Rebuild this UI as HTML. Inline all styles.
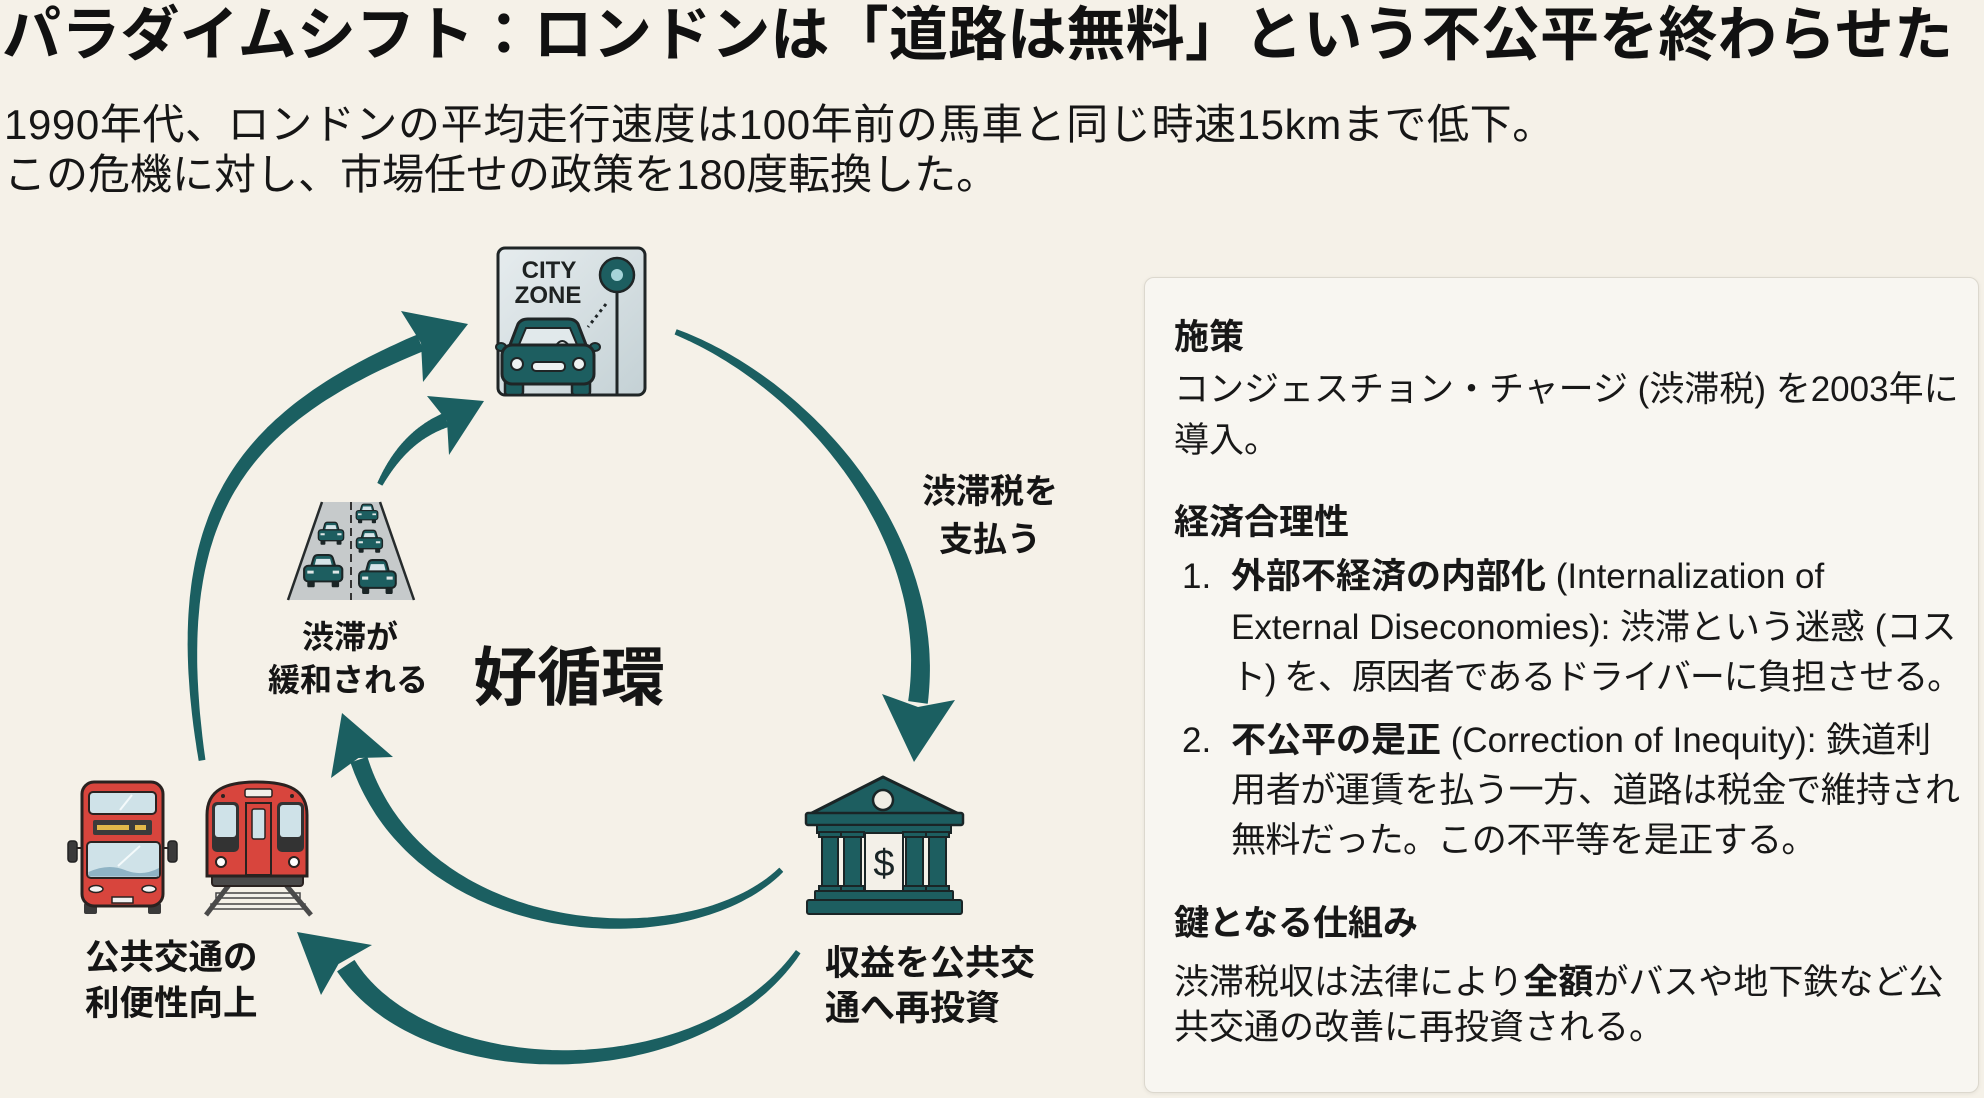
<!DOCTYPE html>
<html lang="ja">
<head>
<meta charset="utf-8">
<style>
  html,body{margin:0;padding:0;}
  body{width:1984px;height:1098px;overflow:hidden;background:#f5f1e8;position:relative;
    font-family:"Liberation Sans","Noto Sans CJK JP",sans-serif;color:#141414;}
  .t{position:absolute;white-space:nowrap;line-height:1;}
  .b{font-weight:700;}
  #title{left:2px;top:6px;font-size:59px;font-weight:700;color:#111;letter-spacing:0.2px;}
  .sub{font-size:42px;left:4px;color:#161616;}
  #panel{position:absolute;left:1144px;top:277px;width:833px;height:814px;background:#f8f6f1;
    border:1.5px solid #dcd8ce;border-radius:10px;box-shadow:0 1px 4px rgba(0,0,0,0.07);}
  .p{font-size:35px;color:#181818;}
  .lab{font-weight:700;color:#151515;}
  svg{position:absolute;left:0;top:0;}
</style>
</head>
<body>

<div class="t" id="title">パラダイムシフト：ロンドンは「道路は無料」という不公平を終わらせた</div>
<div class="t sub" style="top:104px;letter-spacing:0.6px;">1990年代、ロンドンの平均走行速度は100年前の馬車と同じ時速15kmまで低下。</div>
<div class="t sub" style="top:154px;">この危機に対し、市場任せの政策を180度転換した。</div>

<div id="panel"></div>

<svg id="dg" width="1984" height="1098" viewBox="0 0 1984 1098" xmlns="http://www.w3.org/2000/svg">
  <defs>
    <linearGradient id="sg" x1="0" y1="0" x2="1" y2="1">
      <stop offset="0" stop-color="#e6ecee"/>
      <stop offset="1" stop-color="#c4d1d5"/>
    </linearGradient>
    <g id="carg">
      <path d="M8,16 L11,5 Q12,2 15,2 L25,2 Q28,2 29,5 L32,16 Z" fill="#1d5e60" stroke="#1b2526" stroke-width="2"/>
      <path d="M11.5,14 L13.5,6 L26.5,6 L28.5,14 Z" fill="#d6e4e8"/>
      <rect x="2" y="13" width="36" height="16" rx="4" fill="#1d5e60" stroke="#1b2526" stroke-width="2"/>
      <rect x="5" y="18" width="6" height="3" fill="#dfe6e6"/>
      <rect x="29" y="18" width="6" height="3" fill="#dfe6e6"/>
      <rect x="5" y="28" width="7" height="7" rx="1.5" fill="#1b2526"/>
      <rect x="28" y="28" width="7" height="7" rx="1.5" fill="#1b2526"/>
    </g>
  </defs>

  <!-- fallback arrow shafts (hidden if script runs) -->
  <g id="fb" fill="none" stroke="#1b5f61" stroke-width="10" stroke-linecap="round">
    <path d="M676,332 C810,385 940,540 918,700"/>
    <path d="M798,952 C700,1092 425,1088 346,966"/>
    <path d="M202,760 C165,520 235,420 418,344"/>
    <path d="M781,870 C690,960 420,945 360,762"/>
    <path d="M380,484 C395,455 415,432 444,421"/>
  </g>
  <g id="shafts"></g>
  <!-- arrow heads -->
  <g fill="#1b5f61">
    <polygon points="914,762 882,694 918,707 955,700"/>
    <polygon points="297,932 372,945 338.5,964 321,995"/>
    <polygon points="468,324 401,311 421,343 423,382"/>
    <polygon points="342,713 331,778 358.4,758 393,757"/>
    <polygon points="484,401 427,396 447,421 449,455"/>
  </g>

  <!-- CITY ZONE sign -->
  <rect x="498" y="248" width="147" height="147" rx="7" fill="url(#sg)" stroke="#1f2526" stroke-width="3"/>
  <text x="549" y="278" text-anchor="middle" font-family="Liberation Sans, sans-serif" font-weight="700" font-size="24" fill="#1e2222">CITY</text>
  <text x="548" y="303" text-anchor="middle" font-family="Liberation Sans, sans-serif" font-weight="700" font-size="24" fill="#1e2222">ZONE</text>
  <line x1="617" y1="291" x2="617" y2="394" stroke="#1f2526" stroke-width="3"/>
  <circle cx="617" cy="275" r="17" fill="#1d5e60" stroke="#1f2526" stroke-width="2.5"/>
  <circle cx="617" cy="275" r="6" fill="#a6d4d9"/>
  <line x1="606" y1="304" x2="588" y2="327" stroke="#1f2526" stroke-width="3" stroke-dasharray="3 4"/>
  <!-- car -->
  <rect x="505" y="377" width="18" height="18" rx="3" fill="#1d5e60" stroke="#1f2526" stroke-width="2.5"/>
  <rect x="572" y="377" width="18" height="18" rx="3" fill="#1d5e60" stroke="#1f2526" stroke-width="2.5"/>
  <ellipse cx="501" cy="347" rx="5" ry="4" fill="#1d5e60" stroke="#1f2526" stroke-width="2"/>
  <ellipse cx="595" cy="347" rx="5" ry="4" fill="#1d5e60" stroke="#1f2526" stroke-width="2"/>
  <path d="M508,350 L518,324 Q521,319 528,319 L568,319 Q575,319 578,324 L588,350 Z" fill="#1d5e60" stroke="#1f2526" stroke-width="3"/>
  <path d="M518,347 L526,328 L570,328 L578,347 Z" fill="#e1e9eb" stroke="#1f2526" stroke-width="2"/>
  <path d="M555,347 Q562,335 570,347" fill="#eef2f2" stroke="#1f2526" stroke-width="2"/>
  <rect x="502" y="345" width="92" height="39" rx="10" fill="#1d5e60" stroke="#1f2526" stroke-width="3"/>
  <circle cx="517" cy="364" r="6" fill="#eef2f2" stroke="#1f2526" stroke-width="2"/>
  <circle cx="579" cy="364" r="6" fill="#eef2f2" stroke="#1f2526" stroke-width="2"/>
  <rect x="532" y="362" width="33" height="9" rx="4" fill="#eef2f2" stroke="#1f2526" stroke-width="2"/>

  <!-- congested road -->
  <polygon points="322,502 380,502 414,600 288,600" fill="#c6cacb"/>
  <line x1="322" y1="502" x2="288" y2="600" stroke="#262b2c" stroke-width="2.5"/>
  <line x1="380" y1="502" x2="414" y2="600" stroke="#262b2c" stroke-width="2.5"/>
  <line x1="351" y1="502" x2="351" y2="600" stroke="#333" stroke-width="2" stroke-dasharray="8 5"/>
  <g transform="translate(355,503) scale(0.6,0.58)"><use href="#carg"/></g>
  <g transform="translate(317,521) scale(0.7,0.68)"><use href="#carg"/></g>
  <g transform="translate(355,529) scale(0.72,0.68)"><use href="#carg"/></g>
  <g transform="translate(302,553) scale(1.06,0.98)"><use href="#carg"/></g>
  <g transform="translate(357,558) scale(1.02,1.03)"><use href="#carg"/></g>

  <!-- bus -->
  <line x1="77" y1="848" x2="83" y2="848" stroke="#2a2220" stroke-width="2"/>
  <line x1="162" y1="848" x2="168" y2="848" stroke="#2a2220" stroke-width="2"/>
  <rect x="68" y="841" width="9" height="21" rx="3" fill="#3a3a3a" stroke="#222" stroke-width="1.5"/>
  <rect x="168" y="841" width="9" height="21" rx="3" fill="#3a3a3a" stroke="#222" stroke-width="1.5"/>
  <rect x="84" y="903" width="13" height="11" rx="2" fill="#3a3a3a"/>
  <rect x="148" y="903" width="13" height="11" rx="2" fill="#3a3a3a"/>
  <rect x="82" y="782" width="81" height="124" rx="12" fill="#d8453d" stroke="#2a2220" stroke-width="3"/>
  <rect x="89" y="792" width="67" height="22" rx="4" fill="#cfe2e8" stroke="#2a2220" stroke-width="2"/>
  <rect x="93" y="820" width="59" height="15" rx="2" fill="#3b3b3b"/>
  <rect x="97" y="825" width="32" height="5" fill="#e2b84a"/>
  <rect x="135" y="825" width="11" height="5" fill="#e2b84a"/>
  <rect x="87" y="842" width="73" height="36" rx="4" fill="#cfe2e8" stroke="#2a2220" stroke-width="2"/>
  <path d="M88.5,872 Q108,863 125,870 T159,868 V876.5 H88.5Z" fill="#8fb3c4"/>
  <line x1="120" y1="810" x2="132" y2="795" stroke="#f4fafb" stroke-width="2"/>
  <line x1="118" y1="866" x2="140" y2="846" stroke="#f4fafb" stroke-width="2"/>
  <ellipse cx="96" cy="889" rx="7" ry="3.5" fill="#f4f4f4" stroke="#2a2220" stroke-width="1.5"/>
  <ellipse cx="149" cy="889" rx="7" ry="3.5" fill="#f4f4f4" stroke="#2a2220" stroke-width="1.5"/>
  <rect x="112" y="897" width="21" height="6" fill="#f0f0f0" stroke="#2a2220" stroke-width="1.5"/>

  <!-- train -->
  <rect x="216" y="893" width="84" height="5" fill="#f2f0ea" stroke="#444" stroke-width="1.5"/>
  <rect x="211" y="904" width="94" height="5" fill="#f2f0ea" stroke="#444" stroke-width="1.5"/>
  <line x1="229" y1="885" x2="206" y2="915" stroke="#4a4a4a" stroke-width="5"/>
  <line x1="286" y1="885" x2="311" y2="915" stroke="#4a4a4a" stroke-width="5"/>
  <rect x="212" y="872" width="91" height="14" rx="3" fill="#4a4a4a" stroke="#2a2220" stroke-width="2"/>
  <path d="M207,876 L207,815 C207,790 225,782 257,782 C289,782 307,790 307,815 L307,876 Z" fill="#d8453d" stroke="#2a2220" stroke-width="3"/>
  <rect x="245" y="789" width="27" height="8" rx="2" fill="#f2efe8" stroke="#2a2220" stroke-width="1.5"/>
  <circle cx="223" cy="796" r="2" fill="#2a2220"/>
  <circle cx="292" cy="796" r="2" fill="#2a2220"/>
  <rect x="212" y="802" width="27" height="50" rx="5" fill="#333"/>
  <rect x="215" y="805" width="21" height="32" rx="3" fill="#cfe2e8"/>
  <rect x="277" y="802" width="27" height="50" rx="5" fill="#333"/>
  <rect x="280" y="805" width="21" height="32" rx="3" fill="#cfe2e8"/>
  <rect x="246" y="803" width="25" height="72" fill="#d8453d" stroke="#2a2220" stroke-width="2"/>
  <rect x="252" y="809" width="13" height="30" rx="2" fill="#cfe2e8" stroke="#2a2220" stroke-width="1.5"/>
  <circle cx="221" cy="862" r="5" fill="#fff" stroke="#2a2220" stroke-width="2"/>
  <circle cx="294" cy="862" r="5" fill="#fff" stroke="#2a2220" stroke-width="2"/>

  <!-- bank -->
  <polygon points="883,777 808,815 961,815" fill="#1d5e60" stroke="#1a2526" stroke-width="3" stroke-linejoin="round"/>
  <circle cx="883" cy="800" r="10" fill="#f0ede4" stroke="#1a2526" stroke-width="2.5"/>
  <rect x="806" y="813" width="157" height="12" rx="2" fill="#1d5e60" stroke="#1a2526" stroke-width="2.5"/>
  <rect x="817" y="825" width="134" height="8" fill="#1d5e60" stroke="#1a2526" stroke-width="2"/>
  <rect x="865" y="833" width="38" height="59" fill="#f3f0e8" stroke="#1a2526" stroke-width="2"/>
  <text x="884" y="876" text-anchor="middle" font-family="Liberation Sans, sans-serif" font-size="38" fill="#1a2526">$</text>
  <g fill="#1d5e60" stroke="#1a2526" stroke-width="2">
    <rect x="822" y="836" width="16" height="53"/>
    <rect x="844" y="836" width="17" height="53"/>
    <rect x="906" y="836" width="17" height="53"/>
    <rect x="929" y="836" width="17" height="53"/>
    <rect x="819" y="832" width="22" height="5"/>
    <rect x="841" y="832" width="23" height="5"/>
    <rect x="903" y="832" width="23" height="5"/>
    <rect x="926" y="832" width="23" height="5"/>
    <rect x="819" y="886" width="22" height="5"/>
    <rect x="841" y="886" width="23" height="5"/>
    <rect x="903" y="886" width="23" height="5"/>
    <rect x="926" y="886" width="23" height="5"/>
    <rect x="815" y="891" width="138" height="9" rx="1"/>
    <rect x="807" y="900" width="155" height="14" rx="2"/>
  </g>
</svg>

<!-- diagram labels -->
<div class="t lab" style="font-size:32px;left:302px;top:621px;">渋滞が</div>
<div class="t lab" style="font-size:32px;left:268px;top:664px;">緩和される</div>
<div class="t lab" style="font-size:64px;left:473px;top:646px;">好循環</div>
<div class="t lab" style="font-size:34px;left:922px;top:475px;">渋滞税を</div>
<div class="t lab" style="font-size:34px;left:939px;top:523px;">支払う</div>
<div class="t lab" style="font-size:34.5px;left:85px;top:941px;">公共交通の</div>
<div class="t lab" style="font-size:34.5px;left:85px;top:987px;">利便性向上</div>
<div class="t lab" style="font-size:35px;left:825px;top:946px;">収益を公共交</div>
<div class="t lab" style="font-size:35px;left:825px;top:991px;">通へ再投資</div>

<!-- panel text -->
<div class="t p b" style="left:1174px;top:320px;">施策</div>
<div class="t p" style="left:1174px;top:372px;">コンジェスチョン・チャージ (渋滞税) を2003年に</div>
<div class="t p" style="left:1174px;top:423px;">導入。</div>

<div class="t p b" style="left:1174px;top:505px;">経済合理性</div>
<div class="t p" style="left:1182px;top:559px;">1.</div>
<div class="t p" style="left:1231px;top:559px;"><b>外部不経済の内部化</b> (Internalization of</div>
<div class="t p" style="left:1231px;top:610px;">External Diseconomies): 渋滞という迷惑 (コス</div>
<div class="t p" style="left:1231px;top:660px;letter-spacing:-1.1px;">ト) を、原因者であるドライバーに負担させる。</div>
<div class="t p" style="left:1182px;top:723px;">2.</div>
<div class="t p" style="left:1231px;top:723px;"><b>不公平の是正</b> (Correction of Inequity): 鉄道利</div>
<div class="t p" style="left:1231px;top:773px;letter-spacing:-0.3px;">用者が運賃を払う一方、道路は税金で維持され</div>
<div class="t p" style="left:1231px;top:823px;letter-spacing:-0.6px;">無料だった。この不平等を是正する。</div>

<div class="t p b" style="left:1174px;top:906px;">鍵となる仕組み</div>
<div class="t p" style="left:1174px;top:965px;">渋滞税収は法律により<b>全額</b>がバスや地下鉄など公</div>
<div class="t p" style="left:1174px;top:1010px;">共交通の改善に再投資される。</div>

<script>
(function(){
  try{
    var NS='http://www.w3.org/2000/svg';
    var svg=document.getElementById('dg');
    var g=document.getElementById('shafts');
    var arrows=[
      {d:'M676,332 C810,385 940,540 918,702',w0:5,w1:19},
      {d:'M798,952 C700,1092 425,1088 346,966',w0:5,w1:20},
      {d:'M202,760 C165,520 235,420 420,343',w0:6,w1:17},
      {d:'M781,870 C690,960 420,945 359,760',w0:5,w1:17},
      {d:'M380,484 C395,455 415,432 446,420',w0:5,w1:14}
    ];
    arrows.forEach(function(a){
      var p=document.createElementNS(NS,'path');
      p.setAttribute('d',a.d);
      svg.appendChild(p);
      var L=p.getTotalLength(),N=90,left=[],right=[];
      for(var i=0;i<=N;i++){
        var s=L*i/N,q=p.getPointAtLength(s),
            q1=p.getPointAtLength(Math.max(0,s-1)),q2=p.getPointAtLength(Math.min(L,s+1));
        var tx=q2.x-q1.x,ty=q2.y-q1.y,m=Math.sqrt(tx*tx+ty*ty)||1;tx/=m;ty/=m;
        var w=(a.w0+(a.w1-a.w0)*Math.pow(i/N,0.9))/2;
        left.push((q.x-ty*w).toFixed(1)+','+(q.y+tx*w).toFixed(1));
        right.push((q.x+ty*w).toFixed(1)+','+(q.y-tx*w).toFixed(1));
      }
      svg.removeChild(p);
      var poly=document.createElementNS(NS,'polygon');
      poly.setAttribute('points',left.concat(right.reverse()).join(' '));
      poly.setAttribute('fill','#1b5f61');
      poly.setAttribute('stroke','#1b5f61');
      poly.setAttribute('stroke-width','0.8');
      poly.setAttribute('stroke-linejoin','round');
      g.appendChild(poly);
    });
    document.getElementById('fb').style.display='none';
  }catch(e){}
})();
</script>
</body>
</html>
